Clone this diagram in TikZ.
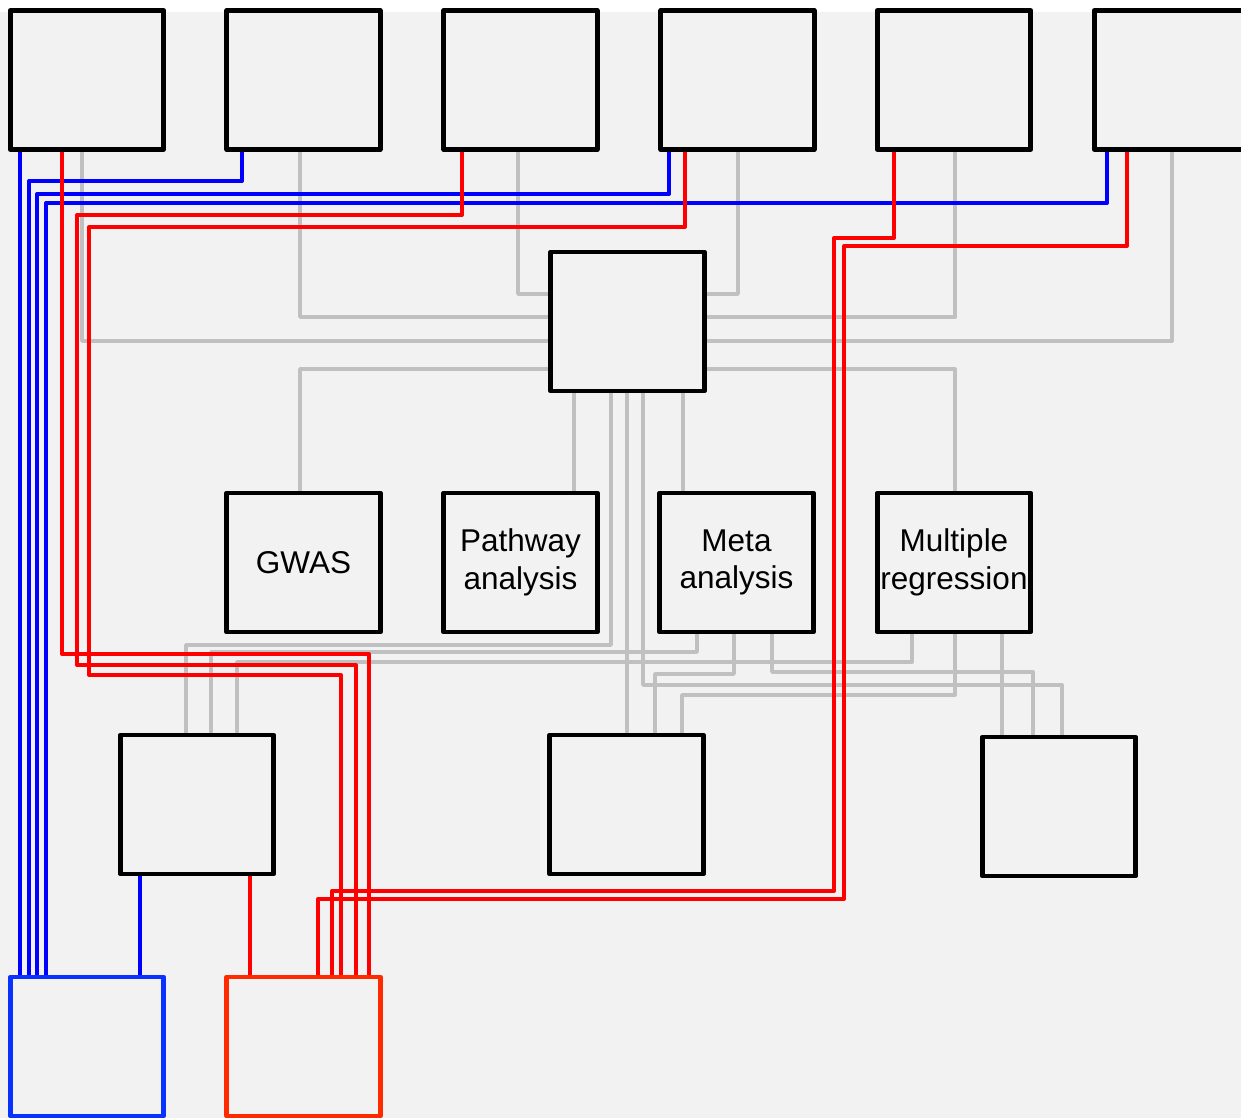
\documentclass[tikz,border=0pt]{standalone}
\usepackage{fontspec}
\setmainfont{Liberation Sans}
\definecolor{bgc}{HTML}{F2F2F2}
\definecolor{grl}{HTML}{C0C0C0}
\definecolor{bll}{HTML}{0000FF}
\definecolor{rdl}{HTML}{FF0000}
\definecolor{blbox}{HTML}{0A32FF}
\definecolor{rdbox}{HTML}{FF2A00}
\pgfdeclarelayer{bgfill}
\pgfdeclarelayer{grayl}
\pgfdeclarelayer{bluel}
\pgfdeclarelayer{redl}
\pgfsetlayers{bgfill,grayl,bluel,redl,main}
\begin{document}
\begin{tikzpicture}[x=1pt,y=-1pt,
  box/.style={draw=black,line width=4.6pt,fill=bgc,minimum width=153.5pt,minimum height=139pt,inner sep=0pt,align=center,font=\fontsize{31.5}{37.5}\selectfont,line join=round},
  gline/.style={draw=grl,line width=3.8pt,line join=round},
  bline/.style={draw=bll,line width=4pt,line join=round},
  rline/.style={draw=rdl,line width=4pt,line join=round}]
\useasboundingbox (0,0) rectangle (1241,1118);
\clip (0,0) rectangle (1241,1118);
% boxes
\node[box] (b1) at (87,80) {};
\node[box] (b2) at (303.5,80) {};
\node[box] (b3) at (520.5,80) {};
\node[box] (b4) at (737.5,80) {};
\node[box] (b5) at (954,80) {};
\node[box] (b6) at (1171,80) {};
\node[box] (cb) at (627.5,321.5) {};
\node[box] (gwas) at (303.5,562.5) {GWAS};
\node[box] (path) at (520.5,562.5) {Pathway\\analysis};
\node[box] (meta) at (736.5,562.5) {Meta\\analysis};
\node[box] (mr) at (954,562.5) {Multiple\\regression};
\node[box] (lb) at (197,804.5) {};
\node[box] (cbot) at (626.5,804.5) {};
\node[box] (rbot) at (1059,806.5) {};
\node[box,draw=blbox] (blue) at (87,1046.5) {};
\node[box,draw=rdbox] (red) at (303.5,1046.5) {};
\begin{pgfonlayer}{bgfill}
\fill[bgc] (0,12) rectangle (1241,1118);
\end{pgfonlayer}
\begin{pgfonlayer}{grayl}
\draw[gline] (b1.south -| 82,0) |- (cb.west |- 0,341);
\draw[gline] (b2.south -| 300,0) |- (cb.west |- 0,317);
\draw[gline] (b3.south -| 518,0) |- (cb.west |- 0,294);
\draw[gline] (b4.south -| 738,0) |- (cb.east |- 0,294);
\draw[gline] (b5.south -| 955,0) |- (cb.east |- 0,317);
\draw[gline] (b6.south -| 1172,0) |- (cb.east |- 0,341);
\draw[gline] (cb.west |- 0,369) -| (gwas.north -| 300,0);
\draw[gline] (cb.east |- 0,369) -| (mr.north -| 955,0);
\draw[gline] (cb.south -| 574,0) -- (path.north -| 574,0);
\draw[gline] (cb.south -| 683,0) -- (meta.north -| 683,0);
\draw[gline] (cb.south -| 611,0) |- (186,645) -- (lb.north -| 186,0);
\draw[gline] (cb.south -| 627,0) -- (cbot.north -| 627,0);
\draw[gline] (cb.south -| 643,0) |- (1062,685) -- (rbot.north -| 1062,0);
\draw[gline] (meta.south -| 697,0) |- (211,652) -- (lb.north -| 211,0);
\draw[gline] (meta.south -| 734,0) |- (655,674) -- (cbot.north -| 655,0);
\draw[gline] (meta.south -| 772,0) |- (1033,672) -- (rbot.north -| 1033,0);
\draw[gline] (mr.south -| 912,0) |- (237,662) -- (lb.north -| 237,0);
\draw[gline] (mr.south -| 955,0) |- (682,695) -- (cbot.north -| 682,0);
\draw[gline] (mr.south -| 1002,0) -- (rbot.north -| 1002,0);
\end{pgfonlayer}
\begin{pgfonlayer}{bluel}
\draw[bline] (b1.south -| 20,0) -- (blue.north -| 20,0);
\draw[bline] (b2.south -| 242,0) |- (29,181) -- (blue.north -| 29,0);
\draw[bline] (b4.south -| 669,0) |- (37,194) -- (blue.north -| 37,0);
\draw[bline] (b6.south -| 1107,0) |- (46,203) -- (blue.north -| 46,0);
\draw[bline] (lb.south -| 140,0) -- (blue.north -| 140,0);
\end{pgfonlayer}
\begin{pgfonlayer}{redl}
\draw[rline] (b1.south -| 62,0) |- (369,654) -- (red.north -| 369,0);
\draw[rline] (b3.south -| 462,0) |- (77,215) |- (356,665) -- (red.north -| 356,0);
\draw[rline] (b4.south -| 685,0) |- (89,227) |- (341,675) -- (red.north -| 341,0);
\draw[rline] (b5.south -| 894,0) |- (834,238) |- (332,891) -- (red.north -| 332,0);
\draw[rline] (b6.south -| 1127,0) |- (844,246) |- (318,899) -- (red.north -| 318,0);
\draw[rline] (lb.south -| 250,0) -- (red.north -| 250,0);
\end{pgfonlayer}
\end{tikzpicture}
\end{document}
